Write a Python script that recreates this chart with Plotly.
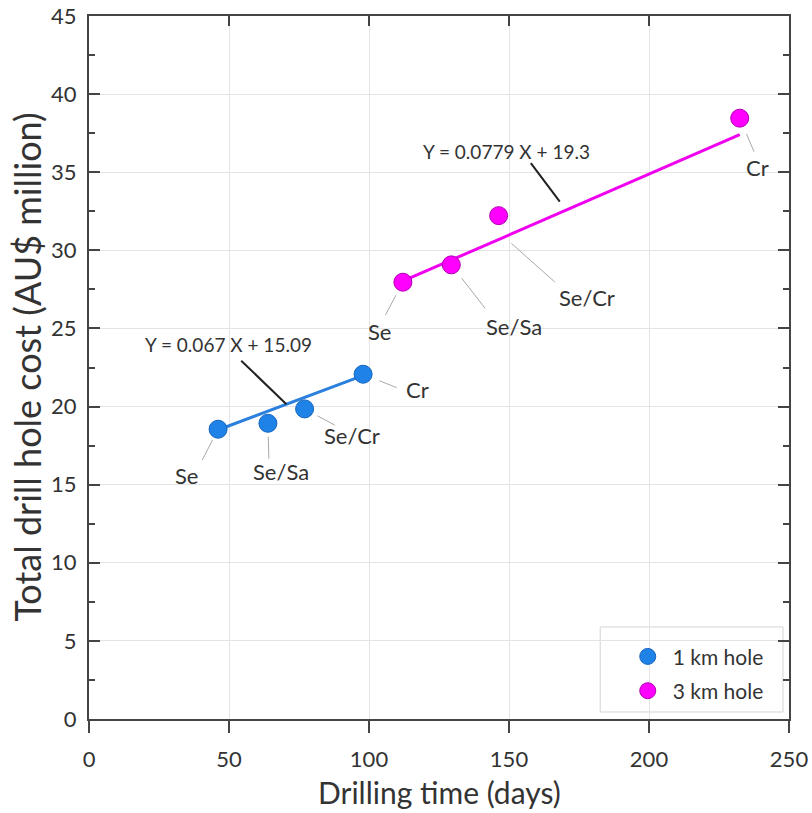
import plotly.graph_objects as go

# ---------------- data ----------------
km1_time = [46.1, 63.9, 77.0, 97.9]
km1_cost = [18.55, 18.93, 19.85, 22.07]
km1_labels = ["Se", "Se/Sa", "Se/Cr", "Cr"]

km3_time = [112.1, 129.4, 146.3, 232.4]
km3_cost = [27.96, 29.07, 32.22, 38.46]

fit1_x = [46.0, 98.0]
fit1_y = [18.5, 22.0]
fit1_text = "Y = 0.067 X + 15.09"

fit2_slope, fit2_icpt = 0.0779, 19.3
fit2_x = [112.0, 232.4]
fit2_text = "Y = 0.0779 X + 19.3"

x_ticks = [0, 50, 100, 150, 200, 250]
y_ticks = [0, 5, 10, 15, 20, 25, 30, 35, 40, 45]

x_title = "Drilling time (days)"
y_title = "Total drill hole cost (AU$ million)"

FONT = "Lato"
TXT = "#333333"
BLUE = "#1f82e6"
MAG = "#ff00ff"

fig = go.Figure()

# fit lines
fig.add_trace(go.Scatter(x=fit1_x, y=fit1_y, mode="lines",
                         line=dict(color="#2a80dc", width=3), showlegend=False, hoverinfo="skip"))
fit2_y = [fit2_slope * v + fit2_icpt for v in fit2_x]
fig.add_trace(go.Scatter(x=fit2_x, y=fit2_y, mode="lines",
                         line=dict(color="#f000f0", width=3), showlegend=False, hoverinfo="skip"))

# points
fig.add_trace(go.Scatter(x=km1_time, y=km1_cost, mode="markers", name="1 km hole",
                         legendgroup="a",
                         marker=dict(size=18, color=BLUE, line=dict(color="#1565c0", width=1))))
fig.add_trace(go.Scatter(x=km3_time, y=km3_cost, mode="markers", name="3 km hole",
                         legendgroup="b",
                         marker=dict(size=18, color=MAG, line=dict(color="#b000b0", width=1))))

# dummy trace for top axis ticks
fig.add_trace(go.Scatter(x=[None], y=[None], xaxis="x2", showlegend=False, hoverinfo="skip"))

annotations = []

def label(x, y, text, tx, ty, lx, ly, stand):
    # leader line
    annotations.append(dict(x=x, y=y, xref="x", yref="y", text="", showarrow=True,
                            arrowhead=0, arrowwidth=1, arrowcolor="#a8a8a8",
                            ax=lx, ay=ly, standoff=stand))
    annotations.append(dict(x=x, y=y, xref="x", yref="y", text=text, showarrow=False,
                            xshift=tx, yshift=-ty,
                            font=dict(family=FONT, size=22, color=TXT)))

# 1 km labels
lab1 = [(-31, 46, -16.6, 32.4, 12), (13, 48, 1, 37, 13.5), (47, 27, 31.7, 17, 14.6), (54, 15, 35, 14, 17.6)]
for (x, y, t, p) in zip(km1_time, km1_cost, km1_labels, lab1):
    label(x, y, t, *p)

# 3 km labels
label(km3_time[0], km3_cost[0], "Se", -23, 49, -18.3, 34.4, 15)
label(km3_time[1], km3_cost[1], "Se/Sa", 63, 62, 35, 45, 16.6)
sx = 148.3
label(sx, fit2_slope * sx + fit2_icpt, "Se/Cr", 82.4, 60, 52.1, 46.3, 9.5)
label(km3_time[3], km3_cost[3], "Cr", 18, 49, 15, 35, 17)

# equation labels
e1x = 70.5
e1y = fit1_y[0] + (fit1_y[1] - fit1_y[0]) * (e1x - fit1_x[0]) / (fit1_x[1] - fit1_x[0])
annotations.append(dict(x=e1x, y=e1y, xref="x", yref="y", text="", showarrow=True,
                        arrowhead=0, arrowwidth=2, arrowcolor="#222222", ax=-46.7, ay=-45, standoff=0))
annotations.append(dict(x=e1x, y=e1y, xref="x", yref="y", text=fit1_text, showarrow=False,
                        xshift=-58, yshift=60, font=dict(family=FONT, size=19, color=TXT)))
e2x = 170.4
e2y = fit2_slope * e2x + fit2_icpt
annotations.append(dict(x=e2x, y=e2y, xref="x", yref="y", text="", showarrow=True,
                        arrowhead=0, arrowwidth=2, arrowcolor="#222222", ax=-36.4, ay=-48.5, standoff=10.6))
annotations.append(dict(x=e2x, y=e2y, xref="x", yref="y", text=fit2_text, showarrow=False,
                        xshift=-59.7, yshift=58.5, font=dict(family=FONT, size=19, color=TXT)))

# axis titles
annotations.append(dict(x=0.5, y=0, xref="paper", yref="paper", text=x_title, showarrow=False,
                        xanchor="center", yanchor="middle", yshift=-73, borderpad=0,
                        font=dict(family=FONT, size=30, color=TXT)))
annotations.append(dict(x=0, y=0.5, xref="paper", yref="paper", text=y_title, showarrow=False,
                        xanchor="center", yanchor="middle", xshift=-63, textangle=-90,
                        font=dict(family=FONT, size=36, color=TXT)))

axis_col = "#444444"
grid_col = "#e4e4e4"

fig.update_layout(
    width=812, height=813,
    margin=dict(l=89, r=23, t=16, b=94),
    paper_bgcolor="white", plot_bgcolor="white",
    font=dict(family=FONT, color=TXT),
    annotations=annotations,
    showlegend=True,
    legend=dict(x=0.7625, y=0.011, xanchor="left", yanchor="bottom",
                bgcolor="rgba(0,0,0,0)", borderwidth=0, itemwidth=40,
                font=dict(family=FONT, size=21, color=TXT),
                tracegroupgap=4),
    shapes=[dict(type="rect", xref="paper", yref="paper", x0=0.7303, x1=0.9914, y0=0.0100, y1=0.1309,
                 line=dict(color="#d4d4d4", width=1), fillcolor="white", layer="below")],
    xaxis=dict(range=[0, 250], tickvals=x_ticks, ticktext=[str(v) for v in x_ticks],
               automargin=False,
               showgrid=True, gridcolor=grid_col, gridwidth=1, zeroline=False,
               showline=True, linecolor=axis_col, linewidth=2, mirror=True,
               ticks="outside", ticklen=12, tickwidth=2, tickcolor=axis_col,
               ticklabelstandoff=8,
               tickfont=dict(family=FONT, size=22, color=TXT)),
    xaxis2=dict(range=[0, 250], matches="x", overlaying="x", side="top", automargin=False,
                tickvals=x_ticks, showticklabels=False, showgrid=False, zeroline=False,
                showline=False, ticks="inside", ticklen=10, tickwidth=2, tickcolor=axis_col),
    yaxis=dict(range=[0, 45], tickvals=y_ticks, ticktext=[str(v) for v in y_ticks],
               automargin=False,
               showgrid=True, gridcolor=grid_col, gridwidth=1, zeroline=False,
               showline=True, linecolor=axis_col, linewidth=2, mirror="ticks",
               ticks="inside", ticklen=11, tickwidth=2, tickcolor=axis_col,
               minor=dict(dtick=2.5, tick0=0, ticks="inside", ticklen=6, tickwidth=2,
                          tickcolor=axis_col, showgrid=False),
               ticklabelstandoff=6,
               tickfont=dict(family=FONT, size=22, color=TXT)),
)

# remove the default 8px page margin so the 812x813 figure fills the window
fig.write_html("out.html", config={"displayModeBar": False},
               post_script="document.body.style.margin='0px';document.body.style.overflow='hidden';")
